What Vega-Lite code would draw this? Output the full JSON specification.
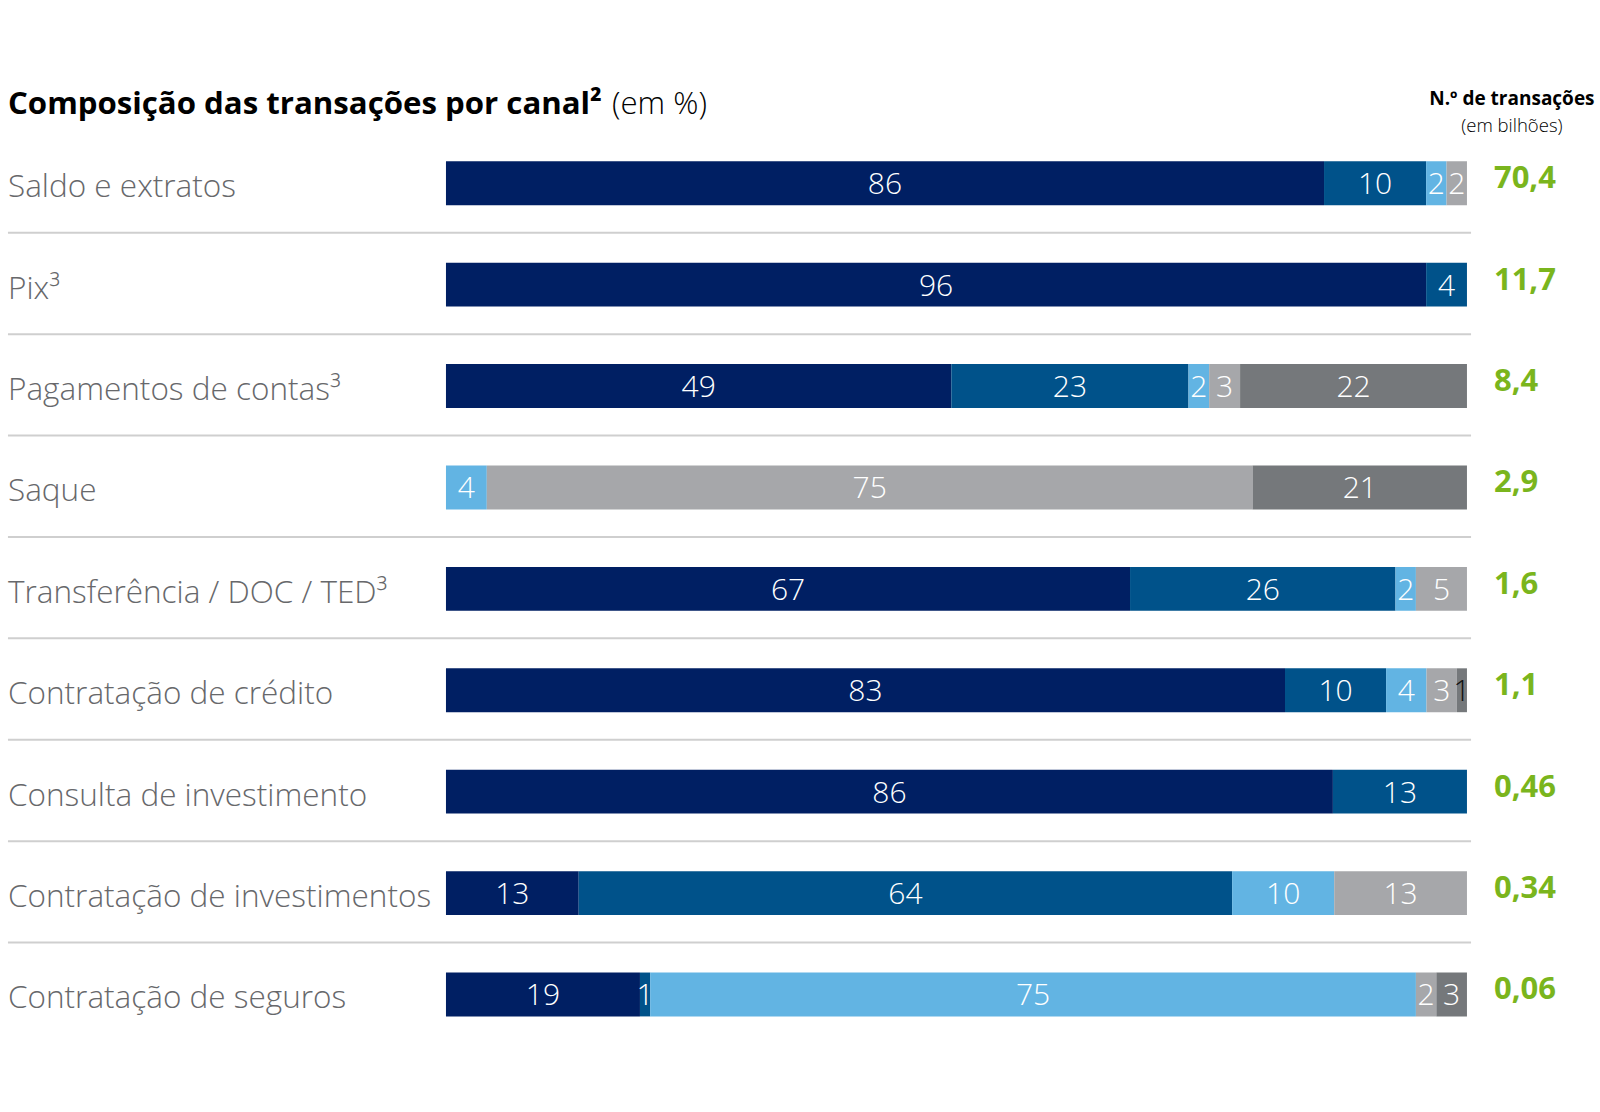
{
  "$schema": "https://vega.github.io/schema/vega-lite/v6.json",
  "width": 1600,
  "height": 1112,
  "autosize": {"type": "fit", "contains": "padding"},
  "padding": 0,
  "background": "#ffffff",
  "config": {"view": {"stroke": null}, "font": "Open Sans", "locale": {"number": {"decimal": ",", "thousands": ".", "grouping": [3], "currency": ["R$", ""]}}},
  "datasets": {
    "composicao": [
      {"cat": "Saldo e extratos", "canal": "Mobile banking", "ordem": 1, "valor": 86},
      {"cat": "Saldo e extratos", "canal": "Internet banking", "ordem": 2, "valor": 10},
      {"cat": "Saldo e extratos", "canal": "Agências", "ordem": 3, "valor": 2},
      {"cat": "Saldo e extratos", "canal": "ATMs", "ordem": 4, "valor": 2},
      {"cat": "Pix³", "canal": "Mobile banking", "ordem": 1, "valor": 96},
      {"cat": "Pix³", "canal": "Internet banking", "ordem": 2, "valor": 4},
      {"cat": "Pagamentos de contas³", "canal": "Mobile banking", "ordem": 1, "valor": 49},
      {"cat": "Pagamentos de contas³", "canal": "Internet banking", "ordem": 2, "valor": 23},
      {"cat": "Pagamentos de contas³", "canal": "Agências", "ordem": 3, "valor": 2},
      {"cat": "Pagamentos de contas³", "canal": "ATMs", "ordem": 4, "valor": 3},
      {"cat": "Pagamentos de contas³", "canal": "Correspondentes", "ordem": 5, "valor": 22},
      {"cat": "Saque", "canal": "Agências", "ordem": 3, "valor": 4},
      {"cat": "Saque", "canal": "ATMs", "ordem": 4, "valor": 75},
      {"cat": "Saque", "canal": "Correspondentes", "ordem": 5, "valor": 21},
      {"cat": "Transferência / DOC / TED³", "canal": "Mobile banking", "ordem": 1, "valor": 67},
      {"cat": "Transferência / DOC / TED³", "canal": "Internet banking", "ordem": 2, "valor": 26},
      {"cat": "Transferência / DOC / TED³", "canal": "Agências", "ordem": 3, "valor": 2},
      {"cat": "Transferência / DOC / TED³", "canal": "ATMs", "ordem": 4, "valor": 5},
      {"cat": "Contratação de crédito", "canal": "Mobile banking", "ordem": 1, "valor": 83},
      {"cat": "Contratação de crédito", "canal": "Internet banking", "ordem": 2, "valor": 10},
      {"cat": "Contratação de crédito", "canal": "Agências", "ordem": 3, "valor": 4},
      {"cat": "Contratação de crédito", "canal": "ATMs", "ordem": 4, "valor": 3},
      {"cat": "Contratação de crédito", "canal": "Correspondentes", "ordem": 5, "valor": 1},
      {"cat": "Consulta de investimento", "canal": "Mobile banking", "ordem": 1, "valor": 86},
      {"cat": "Consulta de investimento", "canal": "Internet banking", "ordem": 2, "valor": 13},
      {"cat": "Contratação de investimentos", "canal": "Mobile banking", "ordem": 1, "valor": 13},
      {"cat": "Contratação de investimentos", "canal": "Internet banking", "ordem": 2, "valor": 64},
      {"cat": "Contratação de investimentos", "canal": "Agências", "ordem": 3, "valor": 10},
      {"cat": "Contratação de investimentos", "canal": "ATMs", "ordem": 4, "valor": 13},
      {"cat": "Contratação de seguros", "canal": "Mobile banking", "ordem": 1, "valor": 19},
      {"cat": "Contratação de seguros", "canal": "Internet banking", "ordem": 2, "valor": 1},
      {"cat": "Contratação de seguros", "canal": "Agências", "ordem": 3, "valor": 75},
      {"cat": "Contratação de seguros", "canal": "ATMs", "ordem": 4, "valor": 2},
      {"cat": "Contratação de seguros", "canal": "Correspondentes", "ordem": 5, "valor": 3}
    ],
    "totais": [
      {"cat": "Saldo e extratos", "bilhoes": 70.4},
      {"cat": "Pix³", "bilhoes": 11.7},
      {"cat": "Pagamentos de contas³", "bilhoes": 8.4},
      {"cat": "Saque", "bilhoes": 2.9},
      {"cat": "Transferência / DOC / TED³", "bilhoes": 1.6},
      {"cat": "Contratação de crédito", "bilhoes": 1.1},
      {"cat": "Consulta de investimento", "bilhoes": 0.46},
      {"cat": "Contratação de investimentos", "bilhoes": 0.34},
      {"cat": "Contratação de seguros", "bilhoes": 0.06}
    ],
    "separadores": [
      {"cat": "Saldo e extratos"},
      {"cat": "Pix³"},
      {"cat": "Pagamentos de contas³"},
      {"cat": "Saque"},
      {"cat": "Transferência / DOC / TED³"},
      {"cat": "Contratação de crédito"},
      {"cat": "Consulta de investimento"},
      {"cat": "Contratação de investimentos"}
    ],
    "titulo": [{"t": "x"}]
  },
  "encoding": {
    "y": {
      "field": "cat",
      "type": "nominal",
      "axis": null,
      "scale": {
        "type": "band",
        "domain": ["Saldo e extratos", "Pix³", "Pagamentos de contas³", "Saque", "Transferência / DOC / TED³", "Contratação de crédito", "Consulta de investimento", "Contratação de investimentos", "Contratação de seguros"],
        "paddingInner": 0.034,
        "paddingOuter": 1,
        "align": 0.662
      }
    }
  },
  "layer": [
    {
      "data": {"name": "separadores"},
      "mark": {"type": "rule", "color": "#cfcfcf", "strokeWidth": 2, "yOffset": 49.5},
      "encoding": {
        "x": {"datum": -0.429, "type": "quantitative", "scale": {"domain": [-0.4368, 1.1303], "nice": false, "zero": false}, "axis": null},
        "x2": {"datum": 1.004}
      }
    },
    {
      "data": {"name": "totais"},
      "mark": {"type": "text", "align": "left", "baseline": "middle", "fontSize": 31.5, "fontWeight": 300, "color": "#67686b", "font": "Open Sans", "dy": 5},
      "encoding": {
        "x": {"datum": -0.429, "type": "quantitative"},
        "text": {"field": "cat"}
      }
    },
    {
      "data": {"name": "composicao"},
      "mark": {"type": "bar", "height": {"band": 0.448}},
      "encoding": {
        "x": {"field": "valor", "type": "quantitative", "stack": "normalize"},
        "order": {"field": "ordem"},
        "color": {
          "field": "canal",
          "type": "nominal",
          "legend": null,
          "scale": {
            "domain": ["Mobile banking", "Internet banking", "Agências", "ATMs", "Correspondentes"],
            "range": ["#001f63", "#00528a", "#62b4e3", "#a6a7aa", "#75787b"]
          }
        }
      }
    },
    {
      "data": {"name": "composicao"},
      "mark": {"type": "text", "align": "center", "baseline": "middle", "fontSize": 30, "fontWeight": 300, "font": "Open Sans", "dy": 2},
      "encoding": {
        "x": {"field": "valor", "type": "quantitative", "stack": "normalize", "bandPosition": 0.5},
        "order": {"field": "ordem"},
        "text": {"field": "valor", "type": "quantitative"},
        "color": {"condition": {"test": "datum.canal === 'Correspondentes' && datum.valor === 1", "value": "#111111"}, "value": "#ffffff"}
      }
    },
    {
      "data": {"name": "totais"},
      "mark": {"type": "text", "align": "left", "baseline": "middle", "fontSize": 31, "fontWeight": "bold", "color": "#7ab51d", "font": "Open Sans", "dy": -4},
      "encoding": {
        "x": {"datum": 1.0264, "type": "quantitative"},
        "text": {"field": "bilhoes", "type": "quantitative", "format": "~g"}
      }
    },
    {
      "data": {"name": "titulo"},
      "mark": {"type": "text", "align": "left", "baseline": "middle", "fontSize": 31.2, "fontWeight": "bold", "color": "#000000", "font": "Open Sans", "yOffset": -78},
      "encoding": {
        "x": {"datum": -0.429, "type": "quantitative"},
        "y": {"datum": "Saldo e extratos"},
        "text": {"value": "Composição das transações por canal²"}
      }
    },
    {
      "data": {"name": "titulo"},
      "mark": {"type": "text", "align": "left", "baseline": "middle", "fontSize": 31.2, "fontWeight": 300, "color": "#000000", "font": "Open Sans", "yOffset": -78},
      "encoding": {
        "x": {"datum": 0.1626, "type": "quantitative"},
        "y": {"datum": "Saldo e extratos"},
        "text": {"value": "(em %)"}
      }
    },
    {
      "data": {"name": "titulo"},
      "mark": {"type": "text", "align": "center", "baseline": "middle", "fontSize": 19, "fontWeight": "bold", "color": "#000000", "font": "Open Sans", "yOffset": -84},
      "encoding": {
        "x": {"datum": 1.044, "type": "quantitative"},
        "y": {"datum": "Saldo e extratos"},
        "text": {"value": "N.º de transações"}
      }
    },
    {
      "data": {"name": "titulo"},
      "mark": {"type": "text", "align": "center", "baseline": "middle", "fontSize": 18.5, "fontWeight": 300, "color": "#000000", "font": "Open Sans", "yOffset": -57.6},
      "encoding": {
        "x": {"datum": 1.044, "type": "quantitative"},
        "y": {"datum": "Saldo e extratos"},
        "text": {"value": "(em bilhões)"}
      }
    }
  ]
}
